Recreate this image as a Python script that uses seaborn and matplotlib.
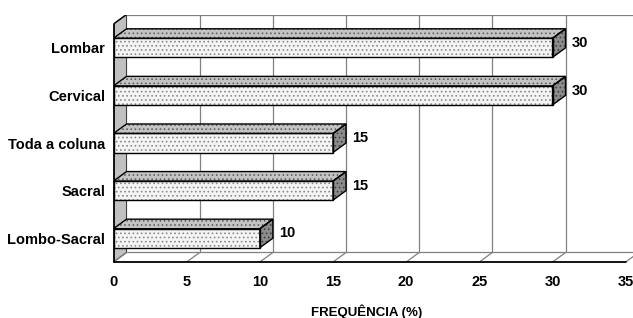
import matplotlib
matplotlib.use('Agg')
import matplotlib.pyplot as plt
from matplotlib.patches import Polygon
import seaborn as sns

categorias = ['Lombar', 'Cervical', 'Toda a coluna', 'Sacral', 'Lombo-Sacral']
frequencias = [30, 30, 15, 15, 10]
xticks = [0, 5, 10, 15, 20, 25, 30, 35]

sns.set_style('white')
plt.rcParams['font.family'] = ['Liberation Sans', 'DejaVu Sans']
plt.rcParams['text.color'] = 'black'
plt.rcParams['xtick.color'] = 'black'
plt.rcParams['ytick.color'] = 'black'
plt.rcParams['axes.labelcolor'] = 'black'
plt.rcParams['hatch.linewidth'] = 0.7

fig = plt.figure(figsize=(6.33, 3.18), dpi=100)
ax = fig.add_axes([113.5 / 633, 56 / 318, 519.5 / 633, 247.5 / 318])

# profundidade do efeito 3D (unidades de dados)
dx, dy = 0.89, 0.2
y_bot, y_top = 4.5, -0.5
x_max = 35

sns.barplot(x=frequencias, y=categorias, orient='h', width=0.4,
            color='white', saturation=1, ax=ax, zorder=3)

# parede lateral cinza
ax.add_patch(Polygon([(0, y_bot), (0, y_top), (dx, y_top - dy), (dx, y_bot - dy)],
                     closed=True, facecolor='#c0c0c0', edgecolor='#404040',
                     lw=0.8, zorder=1))
# grade da parede do fundo e do piso
for t in xticks:
    ax.plot([t, t + dx], [y_bot, y_bot - dy], color='#808080', lw=0.9, zorder=1)
    if t > 0:
        ax.plot([t + dx, t + dx], [y_bot - dy, y_top - dy], color='#808080',
                lw=0.9, zorder=1)
ax.plot([dx, 36], [y_top - dy, y_top - dy], color='#808080', lw=0.9, zorder=1)
ax.plot([dx, 36], [y_bot - dy, y_bot - dy], color='#808080', lw=0.9, zorder=1)

# barras com faces 3D
for p, v in zip(ax.patches[:len(frequencias)], frequencias):
    x0, y0, w, h = p.get_x(), p.get_y(), p.get_width(), p.get_height()
    p.set_visible(False)
    frente = [(x0, y0), (x0 + w, y0), (x0 + w, y0 + h), (x0, y0 + h)]
    topo = [(x0, y0), (x0 + w, y0), (x0 + w + dx, y0 - dy), (x0 + dx, y0 - dy)]
    lado = [(x0 + w, y0), (x0 + w, y0 + h), (x0 + w + dx, y0 + h - dy),
            (x0 + w + dx, y0 - dy)]
    for face, fc, hc in [(frente, '#f4f4f4', '#8a8a8a'),
                         (topo, '#c4c4c4', '#606060'),
                         (lado, '#8c8c8c', '#404040')]:
        ax.add_patch(Polygon(face, closed=True, facecolor=fc, edgecolor=hc,
                             hatch='....', lw=0, zorder=4))
        ax.add_patch(Polygon(face, closed=True, fill=False, edgecolor='black',
                             lw=1.0, zorder=5))
    ax.text(x0 + w + dx + 0.45, y0 + h / 2 - dy / 2, str(v), fontsize=10.5,
            fontweight='bold', va='center', ha='left', zorder=6)

# eixos frontais
ax.plot([0, x_max], [y_bot, y_bot], color='black', lw=1.3, zorder=6, clip_on=False)
ax.plot([0, 0], [y_bot, y_top], color='black', lw=1.3, zorder=6, clip_on=False)
ax.plot([0, dx], [y_top, y_top - dy], color='black', lw=1.0, zorder=6)

ax.set_xlim(0, 35.5)
ax.set_ylim(y_bot, y_top - dy)
for s in ax.spines.values():
    s.set_visible(False)

ax.set_xticks(xticks)
ax.set_xticklabels([str(t) for t in xticks], fontsize=10.5, fontweight='bold')
ax.set_yticks(range(len(categorias)))
ax.set_yticklabels(categorias, fontsize=10.5, fontweight='bold')
ax.set_yticks([i - 0.5 for i in range(len(categorias) + 1)], minor=True)
ax.tick_params(axis='x', direction='out', length=3, width=1, pad=6)
ax.tick_params(axis='y', which='major', length=0, pad=6)
ax.tick_params(axis='y', which='minor', direction='out', length=4, width=1)
ax.set_ylabel('')
ax.set_xlabel('FREQUÊNCIA (%)', fontsize=9.5, fontweight='bold')
ax.xaxis.set_label_coords(0.488, -0.202)
ax.xaxis.label.set_va('center')

fig.savefig('out.png', dpi=100)
